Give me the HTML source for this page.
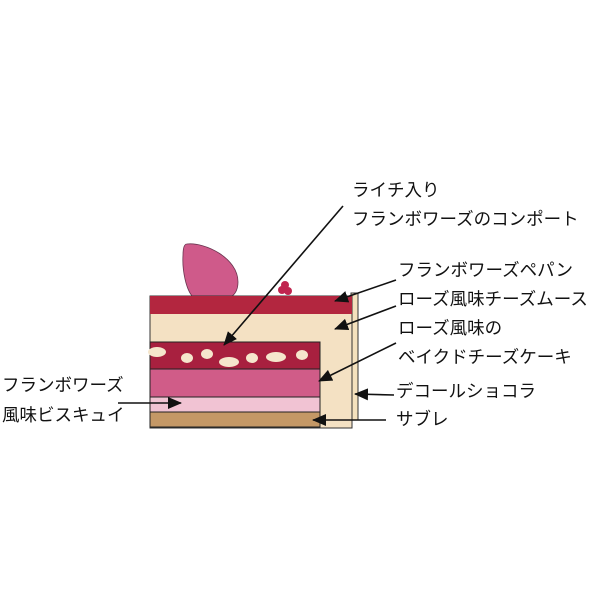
<!DOCTYPE html>
<html><head><meta charset="utf-8"><style>
body{margin:0;background:#fff;}
svg text{font-family:"Liberation Sans","Noto Sans CJK JP",sans-serif;font-size:17.5px;fill:#111;}
</style></head><body>
<svg width="600" height="600" viewBox="0 0 600 600">
<defs><marker id="a" markerWidth="14" markerHeight="12" refX="13" refY="6" orient="auto" markerUnits="userSpaceOnUse"><path d="M0,0 L14,6 L0,12 z" fill="#111"/></marker></defs>
<path d="M187,244 C205,242 238,258 238,282 C238,292 233,296 230,297 L193,297 C186,290 182,270 183,255 C183,248 184,244 187,244 Z" fill="#cf5a8a" stroke="#6a3550" stroke-width="0.8"/>
<circle cx="282" cy="290" r="4" fill="#c0254f"/><circle cx="288" cy="291" r="4" fill="#c0254f"/><circle cx="285" cy="285" r="4" fill="#c0254f"/>
<rect x="351" y="293" width="7" height="127" fill="#f4e1bd" stroke="#333" stroke-width="1"/>
<rect x="150" y="296" width="202" height="132" fill="#f4e1c3" stroke="#333" stroke-width="1"/>
<rect x="150" y="296" width="202" height="18" fill="#b3263f"/>
<rect x="150" y="342" width="170" height="27" fill="#a8203f" stroke="#222" stroke-width="1"/>
<rect x="150" y="369" width="170" height="28" fill="#d05c88" stroke="#222" stroke-width="1"/>
<rect x="150" y="397" width="170" height="15" fill="#f1c3d3" stroke="#222" stroke-width="1"/>
<rect x="150" y="412" width="170" height="15" fill="#c49866" stroke="#222" stroke-width="1"/>
<g fill="#f5e6cc">
<ellipse cx="157" cy="352" rx="9" ry="5"/><ellipse cx="187" cy="358" rx="6" ry="5"/><ellipse cx="207" cy="354" rx="6" ry="5"/>
<ellipse cx="229" cy="362" rx="10" ry="5"/><ellipse cx="252" cy="358" rx="6" ry="5"/><ellipse cx="276" cy="357" rx="10" ry="5"/><ellipse cx="302" cy="355" rx="6" ry="5"/>
</g>
<g stroke="#111" stroke-width="1.6" fill="none" marker-end="url(#a)">
<line x1="343" y1="206" x2="224" y2="345"/>
<line x1="396" y1="280" x2="335" y2="301"/>
<line x1="396" y1="306" x2="335" y2="329"/>
<line x1="396" y1="343" x2="319" y2="381"/>
<line x1="394" y1="395" x2="355" y2="394"/>
<line x1="386" y1="420" x2="313" y2="420"/>
<line x1="118" y1="403" x2="181" y2="403"/>
</g>
<text x="352" y="196">ライチ入り</text>
<text x="352" y="225">フランボワーズのコンポート</text>
<text x="398" y="276">フランボワーズペパン</text>
<text x="398" y="305">ローズ風味チーズムース</text>
<text x="398" y="334">ローズ風味の</text>
<text x="398" y="363">ベイクドチーズケーキ</text>
<text x="396" y="397">デコールショコラ</text>
<text x="396" y="425">サブレ</text>
<text x="2" y="391">フランボワーズ</text>
<text x="2" y="421">風味ビスキュイ</text>
</svg>
</body></html>
